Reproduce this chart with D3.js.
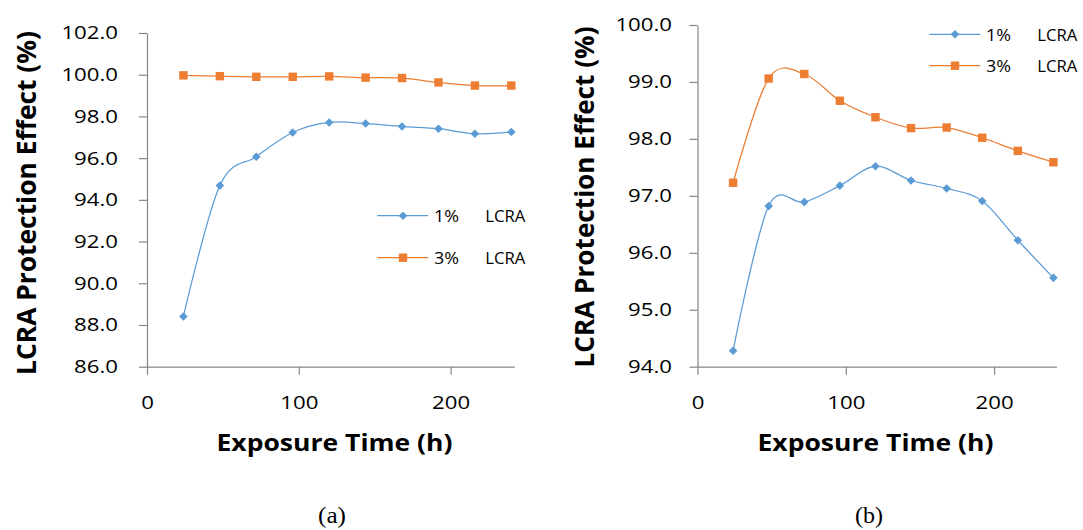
<!DOCTYPE html>
<html>
<head>
<meta charset="utf-8">
<script src="https://cdn.jsdelivr.net/npm/d3@7"></script>
<style>
  html, body { margin: 0; padding: 0; background: #ffffff; }
  svg { display: block; }
</style>
</head>
<body>
<svg id="chart" width="1083" height="530"></svg>
<script>
// ---------------- data ----------------
const hours = [24, 48, 72, 96, 120, 144, 168, 192, 216, 240];

// panel (a)
const panelA_1pct = [88.41, 94.69, 96.07, 97.23, 97.71, 97.66, 97.52, 97.41, 97.17, 97.25];
const panelA_3pct = [99.97, 99.93, 99.90, 99.90, 99.92, 99.86, 99.84, 99.63, 99.48, 99.48];

// panel (b)
const panelB_1pct = [94.28, 96.82, 96.89, 97.18, 97.52, 97.27, 97.13, 96.91, 96.22, 95.56];
const panelB_3pct = [97.23, 99.06, 99.14, 98.67, 98.38, 98.19, 98.20, 98.02, 97.79, 97.59];

const xTicks = [0, 100, 200];
const panelA_yTicks = [86, 88, 90, 92, 94, 96, 98, 100, 102];
const panelB_yTicks = [94, 95, 96, 97, 98, 99, 100];

const seriesNames = ["1%", "3%"];
const seriesSuffix = "LCRA";
const xTitle = "Exposure Time (h)";
const yTitle = "LCRA Protection Effect (%)";
const panelLabels = ["(a)", "(b)"];

const colors = ["#5B9BD5", "#ED7D31"];
const axisColor = "#868686";
const tickFont = "'Open Sans', sans-serif";

// ---------------- helpers ----------------
function stretch(sel, sx) {
  sel.each(function () {
    const L = this.getComputedTextLength();
    d3.select(this).attr("textLength", L * sx).attr("lengthAdjust", "spacingAndGlyphs");
  });
}
function fitLength(sel, len) {
  sel.attr("textLength", len).attr("lengthAdjust", "spacingAndGlyphs");
}
const diamond = r => `M0,${-r}L${r},0L0,${r}L${-r},0Z`;

const svg = d3.select("#chart");
svg.append("rect").attr("width", 1083).attr("height", 530).attr("fill", "#fff");

function drawPanel(cfg) {
  const x = d3.scaleLinear().domain([0, 242]).range([cfg.x0, cfg.x0 + 242 * cfg.pxPer100 / 100]);
  const y = d3.scaleLinear().domain(cfg.yDomain).range([cfg.yBottom, cfg.yTop]);
  const g = svg.append("g");

  // Y axis
  const ya = g.append("g")
    .attr("transform", `translate(${cfg.x0},0)`)
    .call(d3.axisLeft(y).tickValues(cfg.yTicks).tickFormat(d3.format(".1f"))
      .tickSizeOuter(0).tickSizeInner(8).tickPadding(cfg.yPad));
  // X axis
  const xa = g.append("g")
    .attr("transform", `translate(0,${cfg.yBottom})`)
    .call(d3.axisBottom(x).tickValues(xTicks).tickFormat(d3.format("d"))
      .tickSizeOuter(0).tickSizeInner(8));

  [ya, xa].forEach(a => {
    a.select(".domain").attr("stroke", axisColor).attr("stroke-width", 1.2);
    a.selectAll(".tick line").attr("stroke", axisColor).attr("stroke-width", 1.2);
    a.selectAll(".tick text")
      .attr("fill", "#000")
      .style("font-family", tickFont)
      .style("font-size", "18.5px");
  });
  xa.selectAll(".tick text").attr("y", 42).attr("dy", 0);
  stretch(ya.selectAll(".tick text"), 1.2);
  stretch(xa.selectAll(".tick text"), 1.2);

  // series
  const seriesData = [cfg.s1, cfg.s3];
  const line = d3.line()
    .x((d, i) => x(hours[i]))
    .y(d => y(d))
    .curve(d3.curveCardinal.tension(0));

  seriesData.forEach((vals, si) => {
    g.append("path")
      .datum(vals)
      .attr("d", line)
      .attr("fill", "none")
      .attr("stroke", colors[si])
      .attr("stroke-width", 1.25);
  });
  // markers
  seriesData.forEach((vals, si) => {
    const mg = g.append("g");
    if (si === 0) {
      mg.selectAll("path").data(vals).join("path")
        .attr("transform", (d, i) => `translate(${x(hours[i])},${y(d)})`)
        .attr("d", diamond(4.3))
        .attr("fill", colors[si]);
    } else {
      mg.selectAll("rect").data(vals).join("rect")
        .attr("x", (d, i) => x(hours[i]) - 4.2)
        .attr("y", d => y(d) - 4.2)
        .attr("width", 8.4).attr("height", 8.4)
        .attr("fill", colors[si]);
    }
  });

  // legend
  seriesNames.forEach((name, si) => {
    const ly = cfg.legY[si];
    const L = cfg.legX;
    const lg = g.append("g");
    lg.append("line")
      .attr("x1", L).attr("x2", L + 51).attr("y1", ly).attr("y2", ly)
      .attr("stroke", colors[si]).attr("stroke-width", 1.25);
    if (si === 0) {
      lg.append("path").attr("transform", `translate(${L + 25.7},${ly})`)
        .attr("d", diamond(4.3)).attr("fill", colors[si]);
    } else {
      lg.append("rect").attr("x", L + 25.7 - 4.2).attr("y", ly - 4.2)
        .attr("width", 8.4).attr("height", 8.4).attr("fill", colors[si]);
    }
    const t1 = lg.append("text").attr("x", L + 56.7).attr("y", ly + 6.4)
      .style("font-family", tickFont).style("font-size", "16.5px").text(name);
    fitLength(t1, 25);
    const t2 = lg.append("text").attr("x", L + 108).attr("y", ly + 6.4)
      .style("font-family", tickFont).style("font-size", "16.5px").text(seriesSuffix);
    fitLength(t2, 40);
  });

  // axis titles
  const xt = g.append("text")
    .attr("x", cfg.xTitleX).attr("y", 451)
    .attr("text-anchor", "middle")
    .style("font-family", tickFont).style("font-weight", "bold").style("font-size", "23px")
    .text(xTitle);
  fitLength(xt, 236);

  const yt = g.append("text")
    .attr("transform", `translate(${cfg.yTitleX},${cfg.yTitleY}) scale(1.19,1) rotate(-90)`)
    .attr("text-anchor", "middle")
    .style("font-family", tickFont).style("font-weight", "bold").style("font-size", "23px")
    .text(yTitle);
  fitLength(yt, cfg.yTitleLen);

  // panel label
  const pl = g.append("text")
    .attr("x", cfg.labelX).attr("y", 523)
    .attr("text-anchor", "middle")
    .style("font-family", "'Liberation Serif', 'Times New Roman', serif").style("font-size", "22.5px")
    .text(cfg.label);
  fitLength(pl, 28);
}

drawPanel({
  x0: 147, pxPer100: 151.8,
  yDomain: [86, 102], yBottom: 366.7, yTop: 33, yTicks: panelA_yTicks, yPad: 21,
  s1: panelA_1pct, s3: panelA_3pct,
  legX: 377.3, legY: [215.7, 257.7],
  xTitleX: 334.5, yTitleX: 36, yTitleY: 203, yTitleLen: 344,
  labelX: 332, label: panelLabels[0]
});

drawPanel({
  x0: 697.5, pxPer100: 148.3,
  yDomain: [94, 100], yBottom: 366.7, yTop: 25, yTicks: panelB_yTicks, yPad: 17.5,
  s1: panelB_1pct, s3: panelB_3pct,
  legX: 929.3, legY: [34.3, 65.7],
  xTitleX: 875.5, yTitleX: 594.3, yTitleY: 197, yTitleLen: 341,
  labelX: 869, label: panelLabels[1]
});
</script>
</body>
</html>
